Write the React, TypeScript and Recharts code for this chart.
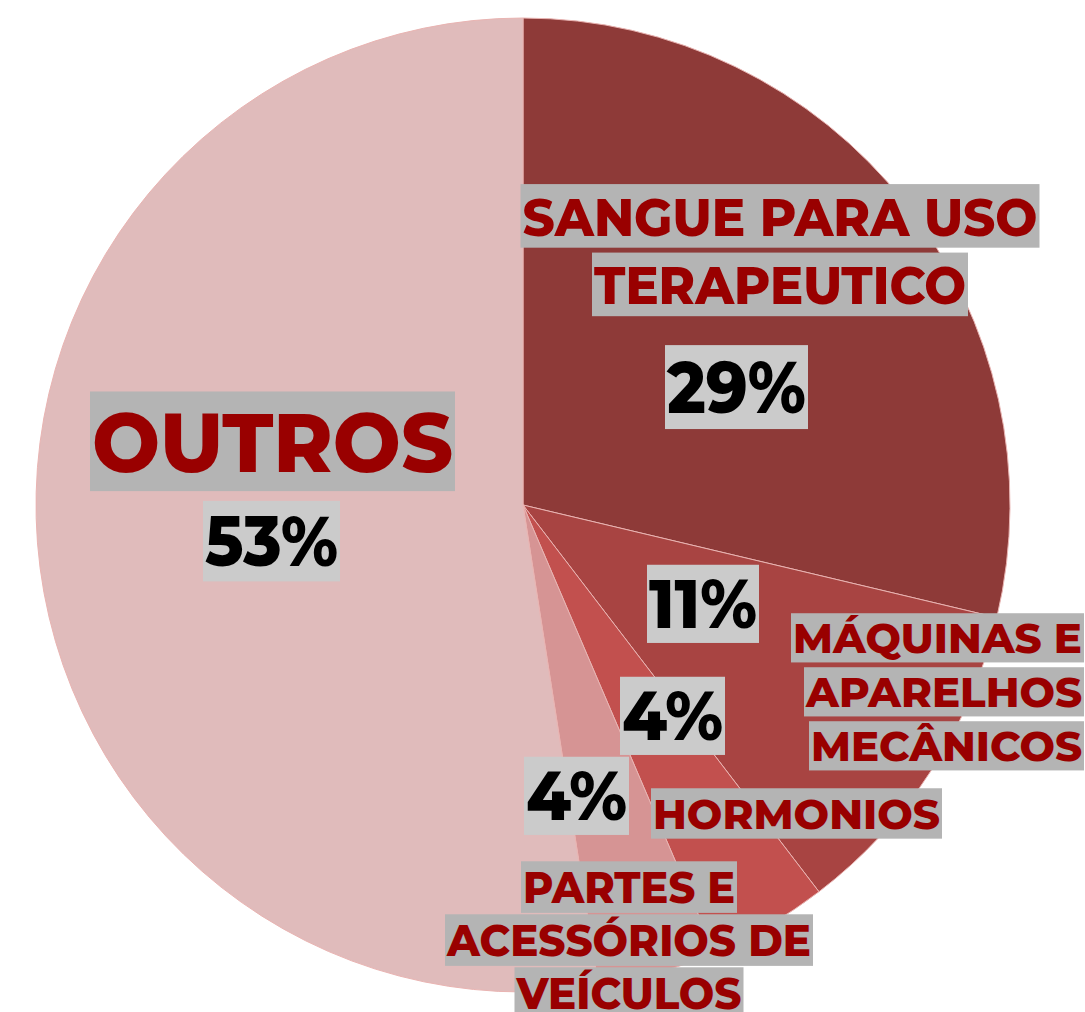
import { PieChart, Pie, Cell } from 'recharts'

const categories = [
  'SANGUE PARA USO TERAPEUTICO',
  'MÁQUINAS E APARELHOS MECÂNICOS',
  'HORMONIOS',
  'PARTES E ACESSÓRIOS DE VEÍCULOS',
  'OUTROS'
]
const labelLines = [
  ['SANGUE PARA USO', 'TERAPEUTICO'],
  ['MÁQUINAS E', 'APARELHOS', 'MECÂNICOS'],
  ['HORMONIOS'],
  ['PARTES E', 'ACESSÓRIOS DE', 'VEÍCULOS'],
  ['OUTROS']
]
const shares = [29, 11, 4, 4, 53]

const colors = ['#8e3a38', '#a84442', '#c2504e', '#d69494', '#e0bbbb']

const CX = 523
const CY = 505
const FONT = "Montserrat, 'Open Sans', sans-serif"

// label placement relative to the pie centre (not data)
interface LineSpec { x: number; y: number; size: number; gap: number; widths: number[]; anchor: 'middle' | 'end' }
interface PctSpec { x: number; y: number; size: number; width: number }
const layout: { name: LineSpec; pct: PctSpec }[] = [
  { name: { x: 257, y: -269.5, size: 53, gap: 68.5, widths: [515, 372], anchor: 'middle' }, pct: { x: 213.5, y: -92, size: 73, width: 139 } },
  { name: { x: 559, y: 148, size: 41, gap: 54, widths: [289, 276, 271], anchor: 'end' }, pct: { x: 180, y: 123, size: 68, width: 108 } },
  { name: { x: 273.5, y: 324, size: 42, gap: 0, widths: [287], anchor: 'middle' }, pct: { x: 149.5, y: 235, size: 68, width: 101 } },
  { name: { x: 106, y: 398, size: 43, gap: 53, widths: [212, 364, 225], anchor: 'middle' }, pct: { x: 53.5, y: 315, size: 68, width: 101 } },
  { name: { x: -250.5, y: -33, size: 83, gap: 0, widths: [361], anchor: 'middle' }, pct: { x: -251.5, y: 61, size: 70, width: 133 } }
]

const data = categories.map((name, i) => ({ name, value: shares[i] }))

function boxedText(
  key: string, text: string, x: number, y: number, size: number, width: number,
  anchor: 'middle' | 'end', bg: string, fg: string, up: number, down: number
) {
  const left = anchor === 'middle' ? x - width / 2 : x - width
  return (
    <g key={key}>
      <rect x={left - 2} y={y - size * up} width={width + 4} height={size * (up + down)} fill={bg} />
      <text
        x={x}
        y={y}
        textAnchor={anchor}
        fontFamily={FONT}
        fontWeight={800}
        fontSize={size}
        fill={fg}
        textLength={width}
        lengthAdjust="spacingAndGlyphs"
      >
        {text}
      </text>
    </g>
  )
}

function renderLabel(props: any) {
  const { index, value } = props
  const spec = layout[index]
  const n = spec.name
  const p = spec.pct
  return (
    <g>
      {labelLines[index].map((line, i) =>
        boxedText(`n${i}`, line, CX + n.x, CY + n.y + i * n.gap, n.size, n.widths[i], n.anchor, '#b4b4b4', '#990000', 0.97, 0.23)
      )}
      {boxedText('p', `${value}%`, CX + p.x, CY + p.y, p.size, p.width, 'middle', '#cbcbcb', '#000000', 0.93, 0.22)}
    </g>
  )
}

export default function App() {
  return (
    <div style={{ position: 'absolute', left: 0, top: 0, width: 1085, height: 1012, background: '#ffffff' }}>
      <PieChart width={1085} height={1012} margin={{ top: 0, right: 0, bottom: 0, left: 0 }}>
        <Pie
          data={data}
          dataKey="value"
          nameKey="name"
          cx={CX}
          cy={CY}
          outerRadius={487}
          startAngle={90}
          endAngle={-270}
          stroke="#e9b4b2"
          strokeWidth={1}
          label={renderLabel}
          labelLine={false}
          isAnimationActive={false}
        >
          {data.map((d, i) => (
            <Cell key={d.name} fill={colors[i]} />
          ))}
        </Pie>
      </PieChart>
    </div>
  )
}
